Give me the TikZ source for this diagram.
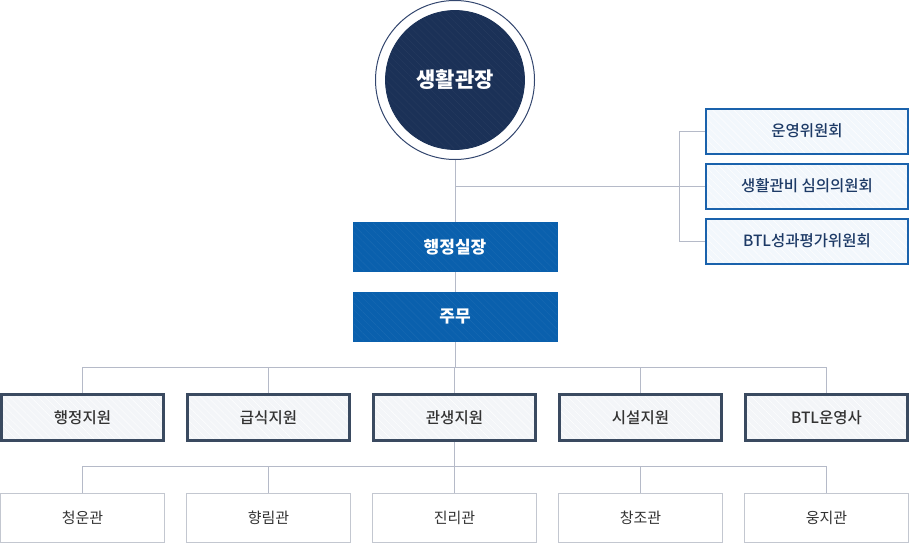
\documentclass[tikz,border=0pt]{standalone}
\usepackage{fontspec}
\setmainfont{Noto Sans CJK KR}
\newfontfamily\medfont{Noto Sans CJK KR Medium}
\usetikzlibrary{positioning,patterns.meta}

\definecolor{headnavy}{HTML}{1B3157}
\definecolor{ringnavy}{HTML}{33466E}
\definecolor{officeblue}{HTML}{0A60AD}
\definecolor{boardblue}{HTML}{1A62AC}
\definecolor{boardfill}{HTML}{F2F7FC}
\definecolor{boardtext}{HTML}{1D3A66}
\definecolor{deptline}{HTML}{3A4A60}
\definecolor{deptfill}{HTML}{F3F5F8}
\definecolor{halline}{HTML}{C3C7D0}
\definecolor{linkgray}{HTML}{B5BAC8}
\definecolor{textdark}{HTML}{333333}

\tikzset{
  hatch/.style 2 args={preaction={fill=#1}, preaction={pattern={Lines[angle=-45,distance=5pt,line width=.4pt]},pattern color=#2}},
  link/.style={draw=linkgray, line width=1pt},
  officebox/.style={hatch={officeblue}{white!6!officeblue}, draw=officeblue, line width=.8pt, text=white, font=\bfseries\fontsize{17}{20}\selectfont, minimum width=204pt, minimum height=49pt, inner sep=0pt},
  boardbox/.style={draw=boardblue, line width=2pt, hatch={boardfill}{white}, text=boardtext, font=\medfont\fontsize{15.5}{18}\selectfont, minimum width=202pt, minimum height=45pt, inner sep=0pt},
  deptbox/.style={draw=deptline, line width=2.5pt, hatch={deptfill}{white}, text=textdark, font=\medfont\fontsize{15.5}{18}\selectfont, minimum width=162pt, minimum height=46pt, inner sep=0pt},
  hallbox/.style={draw=halline, line width=1pt, fill=white, text=textdark, font=\fontsize{15}{18}\selectfont, minimum width=164pt, minimum height=49pt, inner sep=0pt}
}

\begin{document}
\begin{tikzpicture}[x=1pt,y=-1pt]
  \useasboundingbox (0,0) rectangle (910,543);

  % Head
  \node[circle, draw=ringnavy, line width=1pt, minimum size=159pt, inner sep=0pt] (ring) at (455,80) {};
  \node[circle, hatch={headnavy}{white!5!headnavy}, draw=headnavy, line width=.8pt, minimum size=139pt, inner sep=0pt, text=white, font=\bfseries\fontsize{21}{24}\selectfont] (head) at (455,80) {생활관장};

  % Office
  \node[officebox] (office) at (455,247) {행정실장};
  \node[officebox] (chiefclerk) at (455,317) {주무};

  % Committees
  \node[boardbox] (board1) at (807,131) {운영위원회};
  \node[boardbox] (board2) at (807,186) {생활관비 심의의원회};
  \node[boardbox] (board3) at (807,241) {BTL성과평가위원회};

  % Departments
  \node[deptbox] (dept1) at (82.5,417.5) {행정지원};
  \node[deptbox] (dept2) at (268.5,417.5) {급식지원};
  \node[deptbox] (dept3) at (454.5,417.5) {관생지원};
  \node[deptbox] (dept4) at (640.5,417.5) {시설지원};
  \node[deptbox] (dept5) at (826.5,417.5) {BTL운영사};

  % Halls
  \node[hallbox] (hall1) at (82.5,517.5) {청운관};
  \node[hallbox] (hall2) at (268.5,517.5) {향림관};
  \node[hallbox] (hall3) at (454.5,517.5) {진리관};
  \node[hallbox] (hall4) at (640.5,517.5) {창조관};
  \node[hallbox] (hall5) at (826.5,517.5) {웅지관};

  % Connectors
  \draw[link] (ring.south) -- (office.north);
  \draw[link] (office.south) -- (chiefclerk.north);
  \coordinate (split) at (455,186);
  \draw[link] (split) -- (board2.west);
  \draw[link] (board1.west) -- ++(-26,0) |- (board3.west);

  \draw[link] (chiefclerk.south) -- ++(0,26) coordinate (deptbus);
  \foreach \n in {dept1,dept2,dept3,dept4,dept5}
    \draw[link] (deptbus) -| (\n.north);

  \draw[link] (dept3.south) -- ++(0,25) coordinate (hallbus);
  \foreach \n in {hall1,hall2,hall3,hall4,hall5}
    \draw[link] (hallbus) -| (\n.north);
\end{tikzpicture}
\end{document}
